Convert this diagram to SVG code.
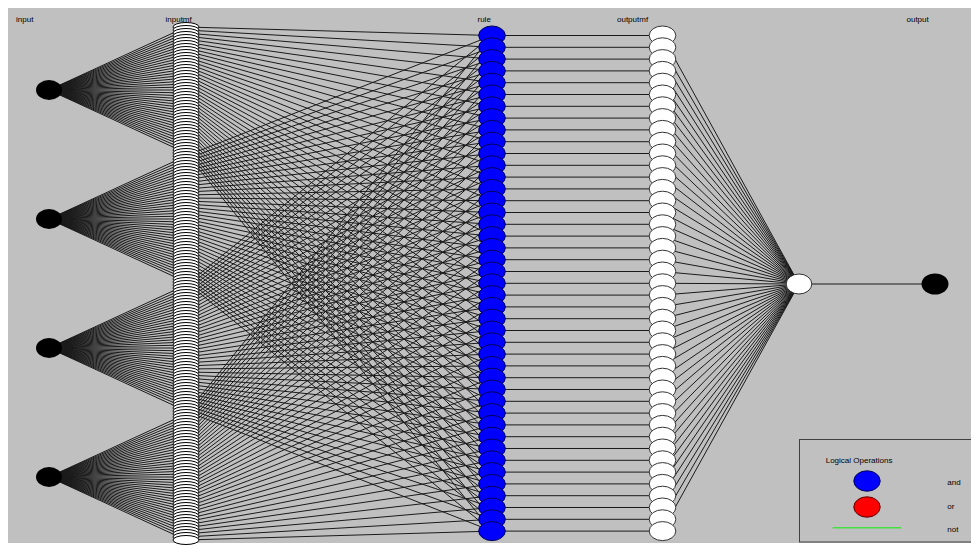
<svg xmlns="http://www.w3.org/2000/svg" width="971" height="547" viewBox="0 0 971 547">
<style>
.bg{fill:#c0c0c0}
.ln{fill:none;stroke:#1a1a1a;stroke-width:1;stroke-linejoin:round}
.imf{fill:#fff;stroke:#000;stroke-width:1}
.rule{fill:#0000ff;stroke:#00005a;stroke-width:1}
.omf{fill:#fff;stroke:#333;stroke-width:1}
.in{fill:#000}
.agg{fill:#fff;stroke:#333;stroke-width:1}
text{font-family:"Liberation Sans",Arial,sans-serif;font-size:8px;fill:#000}
</style>
<defs>
<ellipse id="m" class="imf" cx="186" cy="0" rx="13" ry="4.5"/>
<ellipse id="R" class="rule" cx="492" cy="0" rx="13.3" ry="9.5"/>
<ellipse id="O" class="omf" cx="662.5" cy="0" rx="13.3" ry="9.5"/>
<path id="fan" d="M137-63L0 0 137-60M137-57L0 0 137-54M137-51L0 0 137-48M137-45L0 0 137-42M137-39L0 0 137-36M137-33L0 0 137-30M137-27L0 0 137-24M137-21L0 0 137-18M137-15L0 0 137-12M137-9L0 0 137-6M137-3L0 0 137 0M137 3L0 0 137 6M137 9L0 0 137 12M137 15L0 0 137 18M137 21L0 0 137 24M137 27L0 0 137 30M137 33L0 0 137 36M137 39L0 0 137 42M137 45L0 0 137 48M137 51L0 0 137 54M137 57L0 0 137 60M137 63L0 0"/>
</defs>
<rect width="971" height="547" fill="#fff"/>
<rect class="bg" x="8" y="8" width="963" height="535"/>
<g id="connectors" class="ln">
<use href="#fan" x="49" y="90"/>
<use href="#fan" x="49" y="219"/>
<use href="#fan" x="49" y="348"/>
<use href="#fan" x="49" y="477"/>
<path d="M186 27L492 35.5 186 156M186 285L492 35.5 186 414M186 30L492 47.3 186 159M186 288L492 47.3 186 417M186 33L492 59.1 186 162M186 291L492 59.1 186 420M186 36L492 70.9 186 165M186 294L492 70.9 186 423M186 39L492 82.7 186 168M186 297L492 82.7 186 426M186 42L492 94.5 186 171M186 300L492 94.5 186 429M186 45L492 106.3 186 174M186 303L492 106.3 186 432M186 48L492 118.1 186 177M186 306L492 118.1 186 435M186 51L492 129.9 186 180M186 309L492 129.9 186 438M186 54L492 141.7 186 183M186 312L492 141.7 186 441M186 57L492 153.5 186 186M186 315L492 153.5 186 444M186 60L492 165.3 186 189M186 318L492 165.3 186 447M186 63L492 177.1 186 192M186 321L492 177.1 186 450M186 66L492 188.9 186 195M186 324L492 188.9 186 453M186 69L492 200.7 186 198M186 327L492 200.7 186 456M186 72L492 212.5 186 201M186 330L492 212.5 186 459M186 75L492 224.3 186 204M186 333L492 224.3 186 462M186 78L492 236.1 186 207M186 336L492 236.1 186 465M186 81L492 247.9 186 210M186 339L492 247.9 186 468M186 84L492 259.7 186 213M186 342L492 259.7 186 471M186 87L492 271.5 186 216M186 345L492 271.5 186 474M186 90L492 283.3 186 219M186 348L492 283.3 186 477M186 93L492 295.1 186 222M186 351L492 295.1 186 480M186 96L492 306.9 186 225M186 354L492 306.9 186 483M186 99L492 318.7 186 228M186 357L492 318.7 186 486M186 102L492 330.5 186 231M186 360L492 330.5 186 489M186 105L492 342.3 186 234M186 363L492 342.3 186 492M186 108L492 354.1 186 237M186 366L492 354.1 186 495M186 111L492 365.9 186 240M186 369L492 365.9 186 498M186 114L492 377.7 186 243M186 372L492 377.7 186 501M186 117L492 389.5 186 246M186 375L492 389.5 186 504M186 120L492 401.3 186 249M186 378L492 401.3 186 507M186 123L492 413.1 186 252M186 381L492 413.1 186 510M186 126L492 424.9 186 255M186 384L492 424.9 186 513M186 129L492 436.7 186 258M186 387L492 436.7 186 516M186 132L492 448.5 186 261M186 390L492 448.5 186 519M186 135L492 460.3 186 264M186 393L492 460.3 186 522M186 138L492 472.1 186 267M186 396L492 472.1 186 525M186 141L492 483.9 186 270M186 399L492 483.9 186 528M186 144L492 495.7 186 273M186 402L492 495.7 186 531M186 147L492 507.5 186 276M186 405L492 507.5 186 534M186 150L492 519.3 186 279M186 408L492 519.3 186 537M186 153L492 531.1 186 282M186 411L492 531.1 186 540"/>
<path d="M492 35.5h170m-170 11.8h170m-170 11.8h170m-170 11.8h170m-170 11.8h170m-170 11.8h170m-170 11.8h170m-170 11.8h170m-170 11.8h170m-170 11.8h170m-170 11.8h170m-170 11.8h170m-170 11.8h170m-170 11.8h170m-170 11.8h170m-170 11.8h170m-170 11.8h170m-170 11.8h170m-170 11.8h170m-170 11.8h170m-170 11.8h170m-170 11.8h170m-170 11.8h170m-170 11.8h170m-170 11.8h170m-170 11.8h170m-170 11.8h170m-170 11.8h170m-170 11.8h170m-170 11.8h170m-170 11.8h170m-170 11.8h170m-170 11.8h170m-170 11.8h170m-170 11.8h170m-170 11.8h170m-170 11.8h170m-170 11.8h170m-170 11.8h170m-170 11.8h170m-170 11.8h170m-170 11.8h170m-170 11.8h170"/>
<path d="M662 35.5L799 284 662 47.3M662 59.1L799 284 662 70.9M662 82.7L799 284 662 94.5M662 106.3L799 284 662 118.1M662 129.9L799 284 662 141.7M662 153.5L799 284 662 165.3M662 177.1L799 284 662 188.9M662 200.7L799 284 662 212.5M662 224.3L799 284 662 236.1M662 247.9L799 284 662 259.7M662 271.5L799 284 662 283.3M662 295.1L799 284 662 306.9M662 318.7L799 284 662 330.5M662 342.3L799 284 662 354.1M662 365.9L799 284 662 377.7M662 389.5L799 284 662 401.3M662 413.1L799 284 662 424.9M662 436.7L799 284 662 448.5M662 460.3L799 284 662 472.1M662 483.9L799 284 662 495.7M662 507.5L799 284 662 519.3M662 531.1L799 284"/>
<path d="M799 284H935"/>
</g>
<g id="inputs">
<g id="input1"><ellipse class="in" cx="49" cy="90" rx="13" ry="10"/></g>
<g id="input2"><ellipse class="in" cx="49" cy="219" rx="13" ry="10"/></g>
<g id="input3"><ellipse class="in" cx="49" cy="348" rx="13" ry="10"/></g>
<g id="input4"><ellipse class="in" cx="49" cy="477" rx="13" ry="10"/></g>
</g>
<g id="inputmf">
<use id="i1m1" href="#m" y="27"/><use id="i1m2" href="#m" y="30"/><use id="i1m3" href="#m" y="33"/><use id="i1m4" href="#m" y="36"/><use id="i1m5" href="#m" y="39"/><use id="i1m6" href="#m" y="42"/><use id="i1m7" href="#m" y="45"/><use id="i1m8" href="#m" y="48"/><use id="i1m9" href="#m" y="51"/><use id="i1m10" href="#m" y="54"/><use id="i1m11" href="#m" y="57"/><use id="i1m12" href="#m" y="60"/><use id="i1m13" href="#m" y="63"/><use id="i1m14" href="#m" y="66"/><use id="i1m15" href="#m" y="69"/><use id="i1m16" href="#m" y="72"/><use id="i1m17" href="#m" y="75"/><use id="i1m18" href="#m" y="78"/><use id="i1m19" href="#m" y="81"/><use id="i1m20" href="#m" y="84"/><use id="i1m21" href="#m" y="87"/><use id="i1m22" href="#m" y="90"/><use id="i1m23" href="#m" y="93"/><use id="i1m24" href="#m" y="96"/><use id="i1m25" href="#m" y="99"/><use id="i1m26" href="#m" y="102"/><use id="i1m27" href="#m" y="105"/><use id="i1m28" href="#m" y="108"/><use id="i1m29" href="#m" y="111"/><use id="i1m30" href="#m" y="114"/><use id="i1m31" href="#m" y="117"/><use id="i1m32" href="#m" y="120"/><use id="i1m33" href="#m" y="123"/><use id="i1m34" href="#m" y="126"/><use id="i1m35" href="#m" y="129"/><use id="i1m36" href="#m" y="132"/><use id="i1m37" href="#m" y="135"/><use id="i1m38" href="#m" y="138"/><use id="i1m39" href="#m" y="141"/><use id="i1m40" href="#m" y="144"/><use id="i1m41" href="#m" y="147"/><use id="i1m42" href="#m" y="150"/><use id="i1m43" href="#m" y="153"/>
<use id="i2m1" href="#m" y="156"/><use id="i2m2" href="#m" y="159"/><use id="i2m3" href="#m" y="162"/><use id="i2m4" href="#m" y="165"/><use id="i2m5" href="#m" y="168"/><use id="i2m6" href="#m" y="171"/><use id="i2m7" href="#m" y="174"/><use id="i2m8" href="#m" y="177"/><use id="i2m9" href="#m" y="180"/><use id="i2m10" href="#m" y="183"/><use id="i2m11" href="#m" y="186"/><use id="i2m12" href="#m" y="189"/><use id="i2m13" href="#m" y="192"/><use id="i2m14" href="#m" y="195"/><use id="i2m15" href="#m" y="198"/><use id="i2m16" href="#m" y="201"/><use id="i2m17" href="#m" y="204"/><use id="i2m18" href="#m" y="207"/><use id="i2m19" href="#m" y="210"/><use id="i2m20" href="#m" y="213"/><use id="i2m21" href="#m" y="216"/><use id="i2m22" href="#m" y="219"/><use id="i2m23" href="#m" y="222"/><use id="i2m24" href="#m" y="225"/><use id="i2m25" href="#m" y="228"/><use id="i2m26" href="#m" y="231"/><use id="i2m27" href="#m" y="234"/><use id="i2m28" href="#m" y="237"/><use id="i2m29" href="#m" y="240"/><use id="i2m30" href="#m" y="243"/><use id="i2m31" href="#m" y="246"/><use id="i2m32" href="#m" y="249"/><use id="i2m33" href="#m" y="252"/><use id="i2m34" href="#m" y="255"/><use id="i2m35" href="#m" y="258"/><use id="i2m36" href="#m" y="261"/><use id="i2m37" href="#m" y="264"/><use id="i2m38" href="#m" y="267"/><use id="i2m39" href="#m" y="270"/><use id="i2m40" href="#m" y="273"/><use id="i2m41" href="#m" y="276"/><use id="i2m42" href="#m" y="279"/><use id="i2m43" href="#m" y="282"/>
<use id="i3m1" href="#m" y="285"/><use id="i3m2" href="#m" y="288"/><use id="i3m3" href="#m" y="291"/><use id="i3m4" href="#m" y="294"/><use id="i3m5" href="#m" y="297"/><use id="i3m6" href="#m" y="300"/><use id="i3m7" href="#m" y="303"/><use id="i3m8" href="#m" y="306"/><use id="i3m9" href="#m" y="309"/><use id="i3m10" href="#m" y="312"/><use id="i3m11" href="#m" y="315"/><use id="i3m12" href="#m" y="318"/><use id="i3m13" href="#m" y="321"/><use id="i3m14" href="#m" y="324"/><use id="i3m15" href="#m" y="327"/><use id="i3m16" href="#m" y="330"/><use id="i3m17" href="#m" y="333"/><use id="i3m18" href="#m" y="336"/><use id="i3m19" href="#m" y="339"/><use id="i3m20" href="#m" y="342"/><use id="i3m21" href="#m" y="345"/><use id="i3m22" href="#m" y="348"/><use id="i3m23" href="#m" y="351"/><use id="i3m24" href="#m" y="354"/><use id="i3m25" href="#m" y="357"/><use id="i3m26" href="#m" y="360"/><use id="i3m27" href="#m" y="363"/><use id="i3m28" href="#m" y="366"/><use id="i3m29" href="#m" y="369"/><use id="i3m30" href="#m" y="372"/><use id="i3m31" href="#m" y="375"/><use id="i3m32" href="#m" y="378"/><use id="i3m33" href="#m" y="381"/><use id="i3m34" href="#m" y="384"/><use id="i3m35" href="#m" y="387"/><use id="i3m36" href="#m" y="390"/><use id="i3m37" href="#m" y="393"/><use id="i3m38" href="#m" y="396"/><use id="i3m39" href="#m" y="399"/><use id="i3m40" href="#m" y="402"/><use id="i3m41" href="#m" y="405"/><use id="i3m42" href="#m" y="408"/><use id="i3m43" href="#m" y="411"/>
<use id="i4m1" href="#m" y="414"/><use id="i4m2" href="#m" y="417"/><use id="i4m3" href="#m" y="420"/><use id="i4m4" href="#m" y="423"/><use id="i4m5" href="#m" y="426"/><use id="i4m6" href="#m" y="429"/><use id="i4m7" href="#m" y="432"/><use id="i4m8" href="#m" y="435"/><use id="i4m9" href="#m" y="438"/><use id="i4m10" href="#m" y="441"/><use id="i4m11" href="#m" y="444"/><use id="i4m12" href="#m" y="447"/><use id="i4m13" href="#m" y="450"/><use id="i4m14" href="#m" y="453"/><use id="i4m15" href="#m" y="456"/><use id="i4m16" href="#m" y="459"/><use id="i4m17" href="#m" y="462"/><use id="i4m18" href="#m" y="465"/><use id="i4m19" href="#m" y="468"/><use id="i4m20" href="#m" y="471"/><use id="i4m21" href="#m" y="474"/><use id="i4m22" href="#m" y="477"/><use id="i4m23" href="#m" y="480"/><use id="i4m24" href="#m" y="483"/><use id="i4m25" href="#m" y="486"/><use id="i4m26" href="#m" y="489"/><use id="i4m27" href="#m" y="492"/><use id="i4m28" href="#m" y="495"/><use id="i4m29" href="#m" y="498"/><use id="i4m30" href="#m" y="501"/><use id="i4m31" href="#m" y="504"/><use id="i4m32" href="#m" y="507"/><use id="i4m33" href="#m" y="510"/><use id="i4m34" href="#m" y="513"/><use id="i4m35" href="#m" y="516"/><use id="i4m36" href="#m" y="519"/><use id="i4m37" href="#m" y="522"/><use id="i4m38" href="#m" y="525"/><use id="i4m39" href="#m" y="528"/><use id="i4m40" href="#m" y="531"/><use id="i4m41" href="#m" y="534"/><use id="i4m42" href="#m" y="537"/><use id="i4m43" href="#m" y="540"/>
</g>
<g id="rules">
<use id="r1" href="#R" y="35.5"/><use id="r2" href="#R" y="47.3"/><use id="r3" href="#R" y="59.1"/><use id="r4" href="#R" y="70.9"/><use id="r5" href="#R" y="82.7"/><use id="r6" href="#R" y="94.5"/><use id="r7" href="#R" y="106.3"/><use id="r8" href="#R" y="118.1"/><use id="r9" href="#R" y="129.9"/><use id="r10" href="#R" y="141.7"/><use id="r11" href="#R" y="153.5"/><use id="r12" href="#R" y="165.3"/><use id="r13" href="#R" y="177.1"/><use id="r14" href="#R" y="188.9"/><use id="r15" href="#R" y="200.7"/><use id="r16" href="#R" y="212.5"/><use id="r17" href="#R" y="224.3"/><use id="r18" href="#R" y="236.1"/><use id="r19" href="#R" y="247.9"/><use id="r20" href="#R" y="259.7"/><use id="r21" href="#R" y="271.5"/><use id="r22" href="#R" y="283.3"/><use id="r23" href="#R" y="295.1"/><use id="r24" href="#R" y="306.9"/><use id="r25" href="#R" y="318.7"/><use id="r26" href="#R" y="330.5"/><use id="r27" href="#R" y="342.3"/><use id="r28" href="#R" y="354.1"/><use id="r29" href="#R" y="365.9"/><use id="r30" href="#R" y="377.7"/><use id="r31" href="#R" y="389.5"/><use id="r32" href="#R" y="401.3"/><use id="r33" href="#R" y="413.1"/><use id="r34" href="#R" y="424.9"/><use id="r35" href="#R" y="436.7"/><use id="r36" href="#R" y="448.5"/><use id="r37" href="#R" y="460.3"/><use id="r38" href="#R" y="472.1"/><use id="r39" href="#R" y="483.9"/><use id="r40" href="#R" y="495.7"/><use id="r41" href="#R" y="507.5"/><use id="r42" href="#R" y="519.3"/><use id="r43" href="#R" y="531.1"/>
</g>
<g id="outputmf">
<use id="o1" href="#O" y="35.5"/><use id="o2" href="#O" y="47.3"/><use id="o3" href="#O" y="59.1"/><use id="o4" href="#O" y="70.9"/><use id="o5" href="#O" y="82.7"/><use id="o6" href="#O" y="94.5"/><use id="o7" href="#O" y="106.3"/><use id="o8" href="#O" y="118.1"/><use id="o9" href="#O" y="129.9"/><use id="o10" href="#O" y="141.7"/><use id="o11" href="#O" y="153.5"/><use id="o12" href="#O" y="165.3"/><use id="o13" href="#O" y="177.1"/><use id="o14" href="#O" y="188.9"/><use id="o15" href="#O" y="200.7"/><use id="o16" href="#O" y="212.5"/><use id="o17" href="#O" y="224.3"/><use id="o18" href="#O" y="236.1"/><use id="o19" href="#O" y="247.9"/><use id="o20" href="#O" y="259.7"/><use id="o21" href="#O" y="271.5"/><use id="o22" href="#O" y="283.3"/><use id="o23" href="#O" y="295.1"/><use id="o24" href="#O" y="306.9"/><use id="o25" href="#O" y="318.7"/><use id="o26" href="#O" y="330.5"/><use id="o27" href="#O" y="342.3"/><use id="o28" href="#O" y="354.1"/><use id="o29" href="#O" y="365.9"/><use id="o30" href="#O" y="377.7"/><use id="o31" href="#O" y="389.5"/><use id="o32" href="#O" y="401.3"/><use id="o33" href="#O" y="413.1"/><use id="o34" href="#O" y="424.9"/><use id="o35" href="#O" y="436.7"/><use id="o36" href="#O" y="448.5"/><use id="o37" href="#O" y="460.3"/><use id="o38" href="#O" y="472.1"/><use id="o39" href="#O" y="483.9"/><use id="o40" href="#O" y="495.7"/><use id="o41" href="#O" y="507.5"/><use id="o42" href="#O" y="519.3"/><use id="o43" href="#O" y="531.1"/>
</g>
<g id="aggregate"><ellipse class="agg" cx="799" cy="284" rx="12.8" ry="10"/></g>
<g id="output"><ellipse class="in" cx="935" cy="284" rx="13.5" ry="10.5"/></g>
<g id="labels">
<text x="16" y="22">input</text>
<text x="165.5" y="21.5">inputmf</text>
<text x="477.5" y="22">rule</text>
<text x="617" y="22">outputmf</text>
<text x="906.5" y="22">output</text>
</g>
<g id="legend">
<rect x="799.5" y="439.5" width="180" height="102.5" fill="none" stroke="#404040" stroke-width="1"/>
<text x="825.7" y="462.5">Logical Operations</text>
<ellipse cx="867" cy="481" rx="13.2" ry="10.2" fill="#0000ff" stroke="#00005a"/>
<ellipse cx="867" cy="507" rx="13.2" ry="10.2" fill="#ff0000" stroke="#5a0000"/>
<line x1="832.7" y1="527.7" x2="901" y2="527.7" stroke="#44e044" stroke-width="1.5"/>
<text x="947.3" y="485">and</text>
<text x="947.3" y="508.5">or</text>
<text x="947.3" y="531.5">not</text>
</g>
</svg>
